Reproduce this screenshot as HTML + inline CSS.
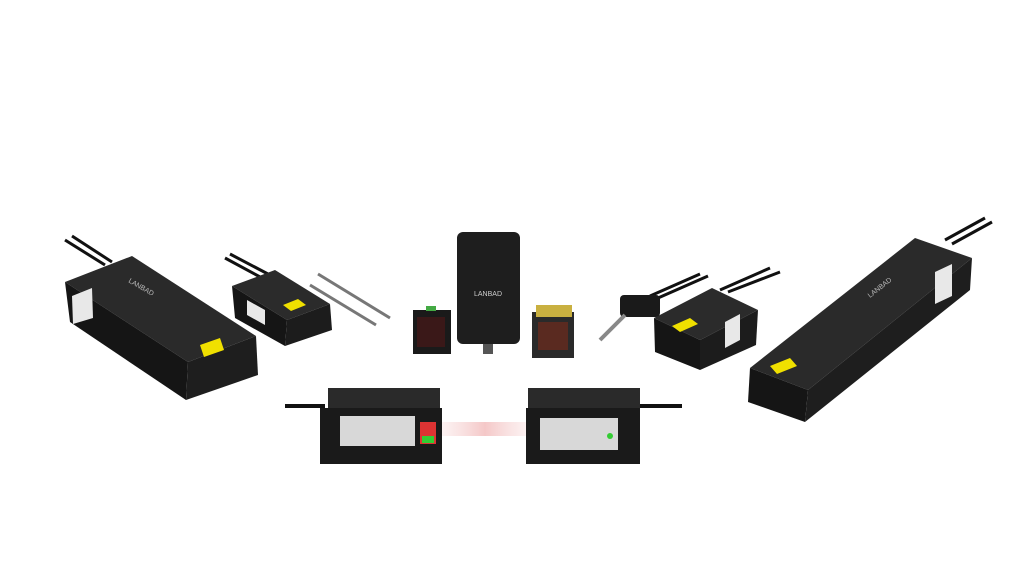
<!DOCTYPE html>
<html><head><meta charset="utf-8"><style>
html,body{margin:0;padding:0;background:#fff;}
svg{display:block}
</style></head><body>
<svg width="1024" height="576" viewBox="0 0 1024 576" xmlns="http://www.w3.org/2000/svg">
<defs>
<linearGradient id="beam" x1="0" x2="1"><stop offset="0" stop-color="#f3c8c8" stop-opacity="0.2"/><stop offset="0.5" stop-color="#f0b0b0" stop-opacity="0.7"/><stop offset="1" stop-color="#f3c8c8" stop-opacity="0.2"/></linearGradient>
</defs>
<!-- left big bar -->
<path d="M65 240 L105 265 M72 236 L112 262" stroke="#111" stroke-width="3" fill="none"/>
<polygon points="65,282 132,256 256,336 188,362" fill="#2a2a2a"/>
<polygon points="65,282 188,362 186,400 70,322" fill="#151515"/>
<polygon points="188,362 256,336 258,375 186,400" fill="#1e1e1e"/>
<polygon points="72,296 92,288 93,318 73,324" fill="#e8e8e8"/>
<polygon points="200,345 220,338 224,350 204,357" fill="#f0e000"/>
<text x="128" y="282" font-family="Liberation Sans,sans-serif" font-size="7" fill="#bbb" transform="rotate(30 128 282)">LANBAD</text>
<!-- left small sensor -->
<path d="M225 258 L262 278 M230 254 L268 274" stroke="#111" stroke-width="3" fill="none"/>
<polygon points="232,286 275,270 330,304 287,320" fill="#2b2b2b"/>
<polygon points="232,286 287,320 285,346 235,318" fill="#151515"/>
<polygon points="287,320 330,304 332,330 285,346" fill="#1c1c1c"/>
<polygon points="247,300 265,310 265,325 247,315" fill="#e8e8e8"/>
<polygon points="283,305 298,299 306,305 291,311" fill="#f0e000"/>
<!-- probes -->
<path d="M318 274 L390 318 M310 285 L376 325" stroke="#777" stroke-width="3" fill="none"/>
<!-- small box -->
<rect x="413" y="310" width="38" height="44" fill="#1a1a1a"/>
<rect x="417" y="317" width="28" height="30" fill="#3a1818"/>
<rect x="426" y="306" width="10" height="5" fill="#4a4"/>
<!-- tall center -->
<rect x="457" y="232" width="63" height="112" rx="6" fill="#1e1e1e"/>
<text x="474" y="296" font-family="Liberation Sans,sans-serif" font-size="7" fill="#ccc">LANBAD</text>
<rect x="483" y="344" width="10" height="10" fill="#555"/>
<!-- yellow sensor -->
<rect x="532" y="312" width="42" height="46" fill="#2a2a2a"/>
<rect x="536" y="305" width="36" height="12" fill="#c9b040"/>
<rect x="538" y="322" width="30" height="28" fill="#5a2a20"/>
<!-- right plug -->
<path d="M650 296 L700 274 M658 298 L708 276" stroke="#111" stroke-width="3" fill="none"/>
<rect x="620" y="295" width="40" height="22" rx="4" fill="#1a1a1a"/>
<path d="M600 340 L625 315" stroke="#888" stroke-width="4"/>
<!-- right small sensor -->
<path d="M720 290 L770 268 M728 292 L780 272" stroke="#111" stroke-width="3" fill="none"/>
<polygon points="654,318 712,288 758,310 700,340" fill="#2b2b2b"/>
<polygon points="654,318 700,340 700,370 655,352" fill="#151515"/>
<polygon points="700,340 758,310 756,345 700,370" fill="#1c1c1c"/>
<polygon points="672,326 690,318 698,324 680,332" fill="#f0e000"/>
<polygon points="725,322 740,314 740,340 725,348" fill="#e8e8e8"/>
<!-- right big bar -->
<path d="M945 240 L985 218 M952 244 L992 222" stroke="#111" stroke-width="3" fill="none"/>
<polygon points="750,368 915,238 972,258 808,390" fill="#2a2a2a"/>
<polygon points="750,368 808,390 805,422 748,402" fill="#151515"/>
<polygon points="808,390 972,258 970,290 805,422" fill="#1e1e1e"/>
<polygon points="935,272 952,264 952,296 935,304" fill="#e8e8e8"/>
<polygon points="770,366 790,358 797,366 777,374" fill="#f0e000"/>
<text x="870" y="298" font-family="Liberation Sans,sans-serif" font-size="7" fill="#bbb" transform="rotate(-38 870 298)">LANBAD</text>
<!-- beam -->
<rect x="440" y="422" width="90" height="14" fill="url(#beam)"/>
<!-- bottom left sensor -->
<path d="M285 406 L325 406" stroke="#111" stroke-width="4"/>
<rect x="328" y="388" width="112" height="22" fill="#2a2a2a"/>
<rect x="320" y="408" width="122" height="56" fill="#1a1a1a"/>
<rect x="340" y="416" width="75" height="30" fill="#d8d8d8"/>
<rect x="420" y="422" width="16" height="22" fill="#d33"/>
<rect x="422" y="436" width="12" height="7" fill="#3c3"/>
<!-- bottom right sensor -->
<path d="M640 406 L682 406" stroke="#111" stroke-width="4"/>
<rect x="528" y="388" width="112" height="22" fill="#2a2a2a"/>
<rect x="526" y="408" width="114" height="56" fill="#1a1a1a"/>
<rect x="540" y="418" width="78" height="32" fill="#d8d8d8"/>
<circle cx="610" cy="436" r="3" fill="#3c3"/>
</svg>
</body></html>
